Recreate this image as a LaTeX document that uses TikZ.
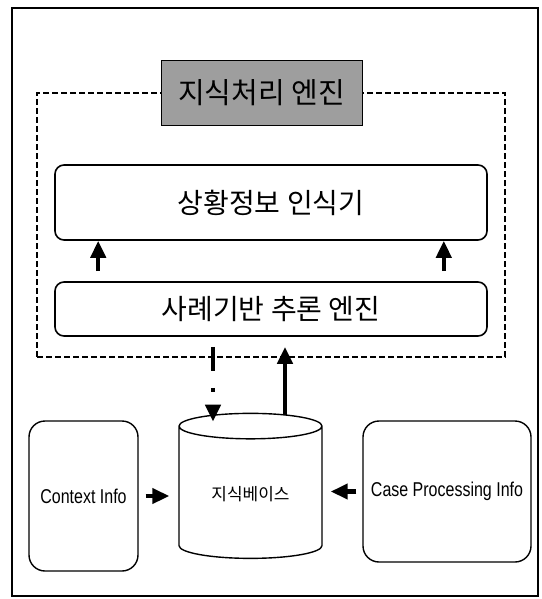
\documentclass[tikz,border=0pt]{standalone}
\usepackage{fontspec}
\setmainfont{Liberation Sans}[FakeStretch=0.8]
\newfontfamily\kofont{Noto Sans CJK KR}
\usetikzlibrary{arrows.meta,shapes.geometric}

\tikzset{
  panel/.style={draw, line width=1.6pt, rounded corners=9pt, minimum width=432pt,
    font=\kofont\fontsize{28}{30}\selectfont},
  infobox/.style={draw, line width=1.4pt, rounded corners=16pt,
    font=\fontsize{20}{22}\selectfont},
  fat/.style={line width=4.5pt, -{Triangle[width=15pt,length=17pt]}},
}

\begin{document}
\begin{tikzpicture}[x=1pt, y=-1pt]
    \useasboundingbox (0,0) rectangle (541,599);
    \draw[line width=1.6pt] (12,8) rectangle (538,596);

    % engine frame and its title
    \node[draw, line width=1.3pt, dash pattern=on 6pt off 3pt,
      minimum width=468pt, minimum height=264pt] (engine) at (271,225) {};
    \node[draw, line width=1pt, fill=black!38, minimum width=201pt, minimum height=64pt,
      font=\kofont\fontsize{29}{31}\selectfont] (title) at (261.5,93) {지식처리 엔진};

    \node[panel, minimum height=75pt] (ctxrec) at (271,202.5) {상황정보 인식기};
    \node[panel, minimum height=54pt] (cbr) at (271,309) {사례기반 추론 엔진};

    \node[cylinder, shape border rotate=90, draw, line width=1.4pt, aspect=0.3,
      minimum width=143pt, minimum height=145pt,
      font=\kofont\fontsize{17}{19}\selectfont] (kb) at (250.5,494.5) {지식베이스};
    \node[infobox, minimum width=109pt, minimum height=150pt] (ctx) at (83.5,496) {Context Info};
    \node[infobox, minimum width=168pt, minimum height=141pt] (case) at (447,491.5) {Case Processing Info};

    \draw[fat, shorten <=10pt] ([xshift=44pt]cbr.north west) -- ([xshift=44pt]ctxrec.south west);
    \draw[fat, shorten <=10pt] ([xshift=-44pt]cbr.north east) -- ([xshift=-44pt]ctxrec.south east);
    \draw[fat, shorten <=10pt, dash pattern=on 24pt off 17pt on 4pt off 17pt]
      ([xshift=-58pt]cbr.south) -- ([xshift=-37.5pt, yshift=-9pt]kb.north);
    \draw[fat, shorten >=10pt] ([xshift=34.5pt, yshift=-2pt]kb.north) -- ([xshift=14pt]cbr.south);
    \draw[fat, shorten <=7pt, shorten >=9pt] (ctx.east) -- (ctx.east -| kb.west);
    \draw[fat, shorten <=6pt, shorten >=8pt] (case.west) -- (case.west -| kb.east);
\end{tikzpicture}
\end{document}
